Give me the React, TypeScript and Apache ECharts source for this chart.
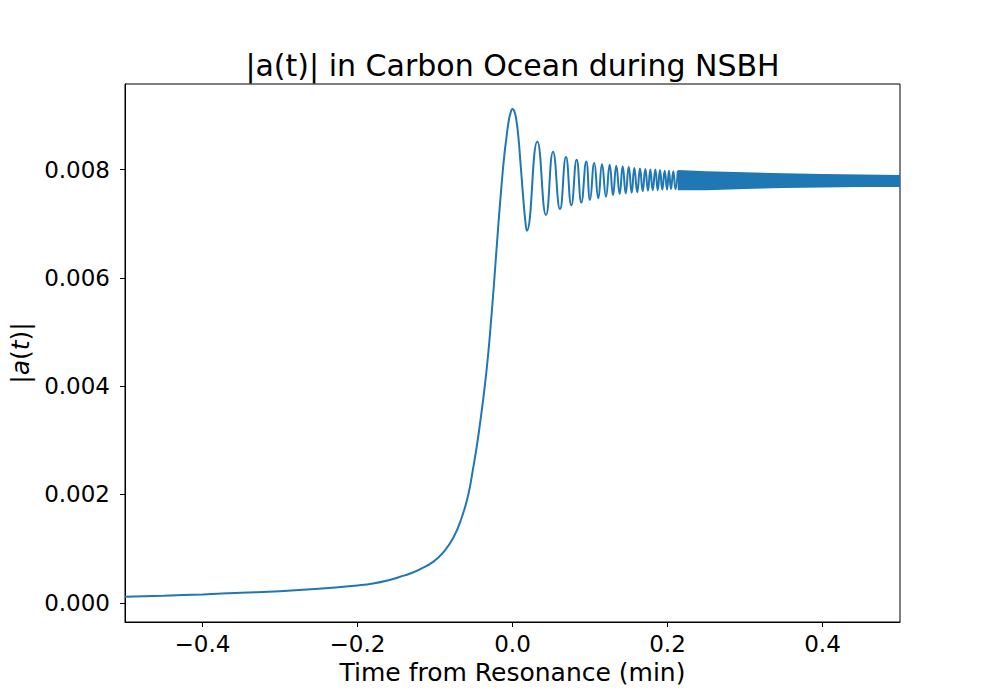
import React, { useEffect, useRef } from 'react';
import * as echarts from 'echarts';

// Smooth rise up to the first peak and first fall (time in min, |a(t)|)
const riseT = [-0.5, -0.45, -0.4, -0.35, -0.3, -0.25, -0.2, -0.18, -0.16, -0.145, -0.132, -0.119, -0.102, -0.0893, -0.0764, -0.0656, -0.057, -0.0506, -0.0462, -0.042, -0.0377, -0.0342, -0.0312, -0.028, -0.0248, -0.0222, -0.0196, -0.0174, -0.0152, -0.013, -0.0105, -0.008, -0.0055, -0.003, 0.0, 0.003, 0.0054, 0.0078, 0.01, 0.0122, 0.0143, 0.0164];
const riseV = [0.00011, 0.00013, 0.000155, 0.000185, 0.000215, 0.000258, 0.00032, 0.000355, 0.000415, 0.00048, 0.00054, 0.00062, 0.00076, 0.00093, 0.0012, 0.00157, 0.002, 0.0025, 0.00288, 0.0033, 0.00377, 0.0042, 0.00462, 0.00515, 0.00572, 0.00622, 0.00672, 0.00714, 0.00753, 0.0079, 0.00827, 0.00857, 0.00884, 0.00902, 0.00912, 0.00905, 0.00887, 0.00857, 0.00818, 0.00778, 0.0074, 0.00707];

// Resolvable oscillation extrema after resonance
const troughT = [0.0185, 0.0432, 0.0613, 0.0759, 0.0888, 0.1, 0.1107, 0.1206, 0.1297, 0.1383, 0.1461, 0.1538, 0.161, 0.168, 0.1748, 0.1809, 0.1874, 0.1933, 0.1994, 0.2045, 0.2103];
const troughV = [0.00687, 0.00716, 0.00727, 0.00734, 0.00739, 0.00744, 0.00747, 0.0075, 0.00753, 0.00755, 0.00756, 0.00757, 0.00758, 0.0076, 0.00761, 0.00762, 0.00762, 0.00763, 0.00763, 0.00764, 0.00764];
const peakT = [0.032, 0.0523, 0.069, 0.0828, 0.0952, 0.1055, 0.1155, 0.1254, 0.1339, 0.1422, 0.15, 0.1572, 0.1645, 0.1714, 0.1778, 0.1843, 0.1903, 0.1964, 0.2019, 0.2075, 0.2132];
const peakV = [0.00852, 0.00833, 0.00823, 0.00818, 0.00815, 0.00812, 0.0081, 0.00809, 0.00807, 0.00806, 0.00805, 0.00803, 0.00802, 0.00801, 0.008, 0.008, 0.00799, 0.00798, 0.00798, 0.00797, 0.00797];

// Envelope (outer edges) of the unresolved fast oscillation band
const bandT = [0.2132, 0.25, 0.3, 0.35, 0.4, 0.45, 0.5];
const bandTop = [0.00799, 0.00797, 0.00795, 0.00793, 0.00792, 0.00791, 0.0079];
const bandBottom = [0.00762, 0.00762, 0.00764, 0.00766, 0.00767, 0.00768, 0.00768];

const xTicks = [-0.4, -0.2, 0, 0.2, 0.4];
const yTicks = [0, 0.002, 0.004, 0.006, 0.008];

const BLUE = '#1f77b4';
const FONT = 'DejaVu Sans';

function buildLine(): number[][] {
  const pts: number[][] = riseT.map((t, i) => [t, riseV[i]]);
  const osc: number[][] = [];
  troughT.forEach((t, i) => osc.push([t, troughV[i]]));
  peakT.forEach((t, i) => osc.push([t, peakV[i]]));
  osc.sort((a, b) => a[0] - b[0]);
  return pts.concat(osc);
}

export default function App() {
  const ref = useRef<HTMLDivElement>(null);
  useEffect(() => {
    if (!ref.current) return;
    const chart = echarts.init(ref.current, null, { renderer: 'svg' });
    chart.setOption({
      animation: false,
      backgroundColor: '#ffffff',
      grid: {
        left: 125, right: 100, top: 84, bottom: 78,
        show: true, borderColor: '#000', borderWidth: 1, backgroundColor: 'transparent',
      },
      graphic: [
        {
          type: 'text', x: 512.5, y: 65, z: 10,
          style: {
            text: '|a(t)| in Carbon Ocean during NSBH',
            fontSize: 30, fontFamily: FONT, fill: '#000',
            align: 'center', verticalAlign: 'middle',
            textAlign: 'center', textVerticalAlign: 'middle',
          },
        },
      ],
      xAxis: {
        type: 'value', min: -0.5, max: 0.5,
        axisLine: { show: true, onZero: false, lineStyle: { color: '#000', width: 1 } },
        axisTick: { show: true, customValues: xTicks, length: 5, lineStyle: { color: '#000', width: 1 } },
        axisLabel: {
          customValues: xTicks, margin: 10, fontSize: 23, fontFamily: FONT, color: '#000',
          formatter: (v: number) => (v < 0 ? '\u2212' : '') + Math.abs(v).toFixed(1),
        },
        splitLine: { show: false },
        name: 'Time from Resonance (min)', nameLocation: 'middle', nameGap: 38,
        nameTextStyle: { fontSize: 25, fontFamily: FONT, color: '#000' },
      },
      yAxis: {
        type: 'value', min: -0.000355, max: 0.00958,
        axisLine: { show: true, onZero: false, lineStyle: { color: '#000', width: 1 } },
        axisTick: { show: true, customValues: yTicks, length: 5, lineStyle: { color: '#000', width: 1 } },
        axisLabel: {
          customValues: yTicks, margin: 15, fontSize: 23, fontFamily: FONT, color: '#000',
          formatter: (v: number) => v.toFixed(3),
        },
        splitLine: { show: false },
        name: '|{i|a}({i|t})|', nameLocation: 'middle', nameGap: 90,
        nameTextStyle: {
          fontSize: 25, fontFamily: FONT, color: '#000',
          rich: { i: { fontSize: 25, fontFamily: FONT, fontStyle: 'italic', color: '#000' } },
        },
      },
      series: [
        {
          type: 'line', data: buildLine(), showSymbol: false, symbol: 'none', smooth: 0.5,
          lineStyle: { color: BLUE, width: 2 }, z: 3,
        },
        {
          type: 'custom', z: 2, clip: true,
          data: [[bandT[0], bandTop[0]]],
          renderItem: (_params: any, api: any) => {
            const pts: number[][] = [];
            for (let i = 0; i < bandT.length; i++) pts.push(api.coord([bandT[i], bandTop[i]]));
            for (let i = bandT.length - 1; i >= 0; i--) pts.push(api.coord([bandT[i], bandBottom[i]]));
            return { type: 'polygon', shape: { points: pts }, style: { fill: BLUE } };
          },
        },
      ],
    });
    return () => chart.dispose();
  }, []);
  return <div ref={ref} style={{ position: 'fixed', left: 0, top: 0, width: 1000, height: 700 }} />;
}
